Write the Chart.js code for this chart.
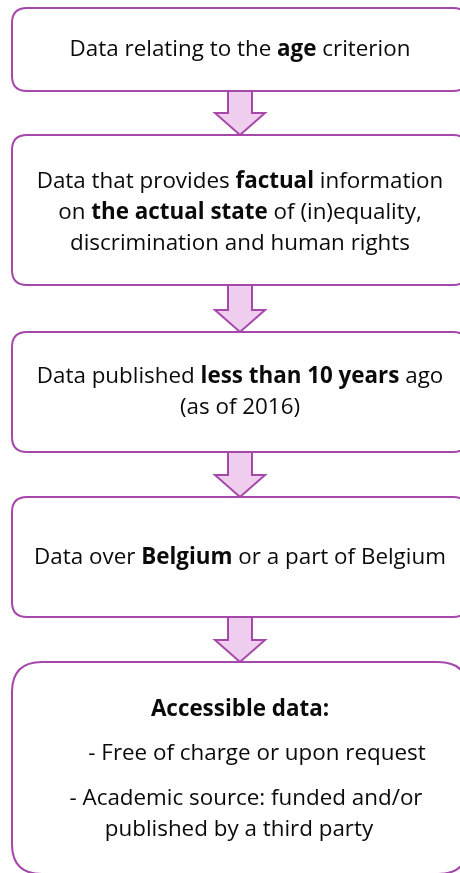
<!DOCTYPE html>
<html>
<head>
<meta charset="utf-8">
<script src="https://cdn.jsdelivr.net/npm/chart.js@4/dist/chart.umd.min.js"></script>
<style>
  html, body { margin: 0; padding: 0; background: #fff; }
  canvas { display: block; }
</style>
</head>
<body>
<canvas id="myChart" width="460" height="873"></canvas>
<script>
// flow steps, text lines per box (**bold** marks the emphasised words)
const stepLines = [
  ['Data relating to the **age** criterion'],
  ['Data that provides **factual** information', 'on **the actual state** of (in)equality,', 'discrimination and human rights'],
  ['Data published **less than 10 years** ago', '(as of 2016)'],
  ['Data over **Belgium** or a part of Belgium'],
  ['**Accessible data:**', '- Free of charge or upon request', '- Academic source: funded and/or', 'published by a third party'],
]
// box top / bottom in axis units (the axes span the page 0..460, 0..873)
const boxTop = [8, 135, 332, 497, 662]
const boxBottom = [91, 285, 452, 617, 874]
// text line centres per box
const lineY = [
  [50],
  [182, 213, 244],
  [377, 408],
  [558],
  [710, 754, 799, 830],
]
const lineX = [
  [240],
  [240, 240, 240],
  [240, 240],
  [240],
  [240, 257, 246, 239],
]

const borderColor = '#a548aa'
const arrowFill = '#efcdee'
const fontFamily = '"Open Sans", "Liberation Sans", sans-serif'
const fontSize = 22.4

const box = {
  left: 12,
  right: 468,
  radius: [15, 15, 15, 15, 30],
}

function parseLine(str) {
  return str.split('**').map((t, i) => ({ text: t, bold: i % 2 === 1 })).filter(s => s.text)
}

function roundRect(ctx, x, y, w, h, r) {
  ctx.beginPath()
  ctx.moveTo(x + r, y)
  ctx.lineTo(x + w - r, y)
  ctx.quadraticCurveTo(x + w, y, x + w, y + r)
  ctx.lineTo(x + w, y + h - r)
  ctx.quadraticCurveTo(x + w, y + h, x + w - r, y + h)
  ctx.lineTo(x + r, y + h)
  ctx.quadraticCurveTo(x, y + h, x, y + h - r)
  ctx.lineTo(x, y + r)
  ctx.quadraticCurveTo(x, y, x + r, y)
  ctx.closePath()
}

const flowPlugin = {
  id: 'flow',
  afterDraw: chart => {
    const ctx = chart.ctx
    const xs = chart.scales.x
    const ys = chart.scales.y
    ctx.save()
    ctx.lineWidth = 2
    ctx.strokeStyle = borderColor

    // boxes
    stepLines.forEach((lines, i) => {
      const x0 = xs.getPixelForValue(box.left)
      const x1 = xs.getPixelForValue(box.right)
      const y0 = ys.getPixelForValue(boxTop[i])
      const y1 = ys.getPixelForValue(boxBottom[i])
      roundRect(ctx, x0, y0, x1 - x0, y1 - y0, box.radius[i])
      ctx.fillStyle = '#fff'
      ctx.fill()
      ctx.stroke()
    })

    // arrows between boxes
    for (let i = 0; i < stepLines.length - 1; i++) {
      const cx = xs.getPixelForValue(240)
      const top = ys.getPixelForValue(boxBottom[i])
      const tip = ys.getPixelForValue(boxTop[i + 1])
      const headY = tip - 22
      ctx.beginPath()
      ctx.moveTo(cx - 12, top)
      ctx.lineTo(cx + 12, top)
      ctx.lineTo(cx + 12, headY)
      ctx.lineTo(cx + 25, headY)
      ctx.lineTo(cx, tip)
      ctx.lineTo(cx - 25, headY)
      ctx.lineTo(cx - 12, headY)
      ctx.closePath()
      ctx.fillStyle = arrowFill
      ctx.fill()
      ctx.stroke()
    }

    // text
    ctx.fillStyle = '#0a0a0a'
    ctx.textBaseline = 'middle'
    ctx.textAlign = 'left'
    stepLines.forEach((lines, i) => {
      lines.forEach((line, j) => {
        const segs = parseLine(line)
        let w = 0
        segs.forEach(s => {
          ctx.font = (s.bold ? 'bold ' : '') + fontSize + 'px ' + fontFamily
          s.w = ctx.measureText(s.text).width
          w += s.w
        })
        let x = xs.getPixelForValue(lineX[i][j]) - w / 2
        const y = ys.getPixelForValue(lineY[i][j])
        segs.forEach(s => {
          ctx.font = (s.bold ? 'bold ' : '') + fontSize + 'px ' + fontFamily
          ctx.fillText(s.text, x, y)
          x += s.w
        })
      })
    })
    ctx.restore()
  },
}

const ctx = document.getElementById('myChart')

new Chart(ctx, {
  type: 'scatter',
  data: { datasets: [{ data: [], pointRadius: 0 }] },
  plugins: [flowPlugin],
  options: {
    animation: false,
    responsive: false,
    devicePixelRatio: 1,
    layout: { padding: 0 },
    plugins: { legend: { display: false }, tooltip: { enabled: false } },
    scales: {
      x: { type: 'linear', min: 0, max: 460, display: false },
      y: { type: 'linear', min: 0, max: 873, reverse: true, display: false },
    },
  },
})
</script>
</body>
</html>
